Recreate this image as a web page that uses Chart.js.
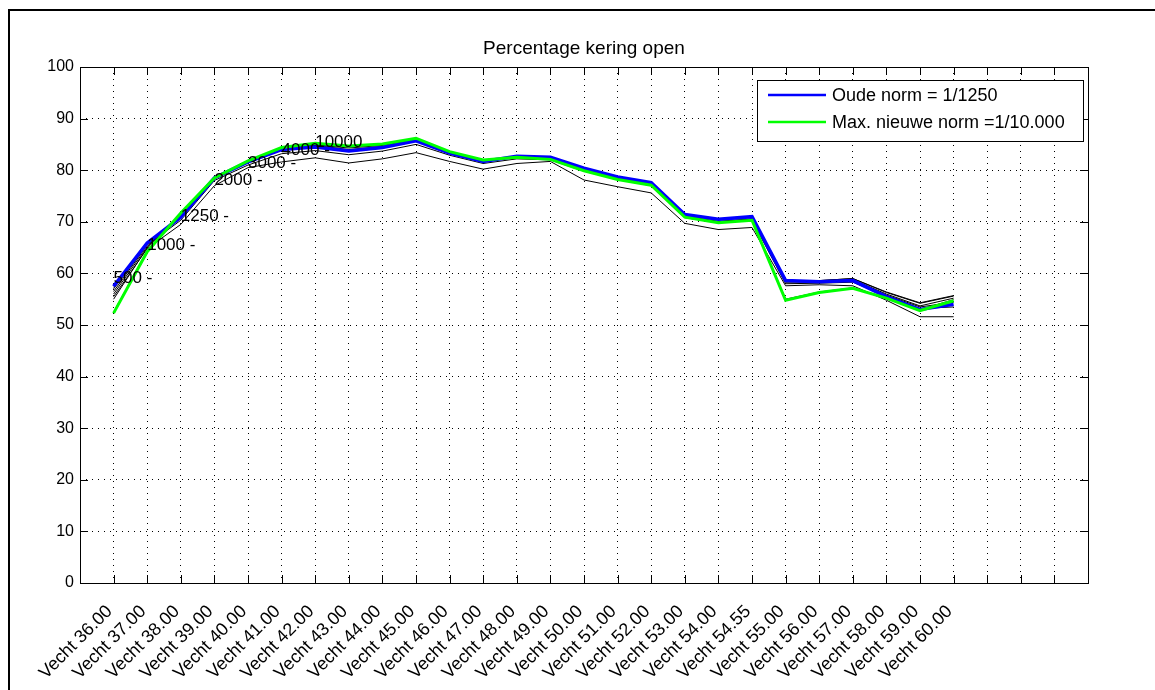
<!DOCTYPE html>
<html>
<head>
<meta charset="utf-8">
<script src="https://cdn.jsdelivr.net/npm/chart.js@4"></script>
<style>
  html, body { margin: 0; padding: 0; background: #fff; overflow: hidden; }
  #wrap { position: relative; width: 1155px; height: 690px; }
</style>
</head>
<body>
<div id="wrap"><canvas id="keringChart"></canvas></div>
<script>
// categories (x positions 1..26 on a 0..30 axis)
const categories = ['Vecht 36.00', 'Vecht 37.00', 'Vecht 38.00', 'Vecht 39.00', 'Vecht 40.00',
    'Vecht 41.00', 'Vecht 42.00', 'Vecht 43.00', 'Vecht 44.00', 'Vecht 45.00', 'Vecht 46.00',
    'Vecht 47.00', 'Vecht 48.00', 'Vecht 49.00', 'Vecht 50.00', 'Vecht 51.00', 'Vecht 52.00',
    'Vecht 53.00', 'Vecht 54.00', 'Vecht 54.55', 'Vecht 55.00', 'Vecht 56.00', 'Vecht 57.00',
    'Vecht 58.00', 'Vecht 59.00', 'Vecht 60.00'];

const oudeNorm = [57.5, 65.9, 70.9, 78.5, 81.6, 84.0, 84.5, 83.7, 84.4, 85.7, 83.3, 81.7, 82.7,
    82.5, 80.4, 78.7, 77.6, 71.4, 70.5, 71.0, 58.6, 58.4, 58.6, 55.5, 53.0, 54.0];
const nieuweNorm = [52.3, 64.2, 71.7, 78.5, 81.8, 84.4, 85.2, 84.7, 85.1, 86.2, 83.6, 82.0, 82.5,
    82.1, 79.9, 78.2, 77.1, 70.9, 69.8, 70.3, 54.8, 56.3, 57.1, 55.2, 52.8, 54.7];

// thin black lines, one per return period
const t500 = [55.5, 64.8, 69.5, 77.0, 80.5, 81.6, 82.4, 81.4, 82.2, 83.4, 81.7, 80.2, 81.3,
    81.7, 78.1, 76.8, 75.6, 69.7, 68.5, 68.9, 57.6, 57.8, 57.6, 54.8, 51.6, 51.6];
const t1000 = [56.5, 65.5, 70.3, 78.0, 81.0, 83.2, 83.8, 83.0, 83.7, 85.0, 82.9, 81.3, 82.2,
    82.0, 79.8, 78.2, 77.0, 70.8, 69.8, 70.3, 58.0, 58.1, 58.3, 55.6, 53.2, 53.5];
const t1250 = [57.3, 65.8, 70.8, 78.4, 81.5, 83.9, 84.4, 83.6, 84.3, 85.6, 83.2, 81.6, 82.6,
    82.4, 80.3, 78.6, 77.5, 71.3, 70.4, 70.9, 58.3, 58.3, 58.6, 55.8, 53.5, 54.4];
const t2000 = [57.0, 65.6, 71.2, 78.5, 81.6, 84.1, 84.8, 84.0, 84.6, 85.8, 83.4, 81.8, 82.5,
    82.2, 80.1, 78.4, 77.3, 71.1, 70.1, 70.6, 58.4, 58.5, 58.8, 56.0, 53.7, 55.2];
const t3000 = [56.0, 65.2, 71.4, 78.5, 81.7, 84.2, 84.9, 84.3, 84.8, 85.9, 83.5, 81.9, 82.5,
    82.1, 80.0, 78.3, 77.2, 71.0, 70.0, 70.5, 58.5, 58.6, 59.0, 56.3, 54.2, 55.6];
const t4000 = [55.0, 65.0, 71.5, 78.5, 81.7, 84.3, 85.0, 84.5, 85.0, 86.0, 83.5, 81.9, 82.5,
    82.1, 80.0, 78.3, 77.2, 71.0, 69.9, 70.4, 58.6, 58.6, 59.0, 56.4, 54.3, 55.7];
const t10000 = [52.5, 64.3, 71.6, 78.5, 81.8, 84.4, 85.1, 84.6, 85.1, 86.1, 83.6, 82.0, 82.5,
    82.1, 79.9, 78.2, 77.1, 70.9, 69.8, 70.3, 55.0, 56.4, 57.2, 55.3, 53.0, 54.9];

// text labels along the first categories
const contourLabels = ['500 -', '1000 -', '1250 -', '2000 -', '3000 -', '4000 -', '10000'];
const contourLabelY = [59.0, 65.5, 71.0, 78.1, 81.4, 83.9, 85.4];

const FONT = "'Liberation Sans', Arial, sans-serif";

function toPoints(arr) {
    return arr.map((v, i) => ({ x: i + 1, y: v }));
}

function thinLine(label, arr) {
    return {
        label: label,
        data: toPoints(arr),
        borderColor: '#000000',
        borderWidth: 1,
        pointRadius: 0,
        tension: 0,
        order: 5
    };
}

const decor = {
    id: 'decor',
    beforeDraw(chart) {
        const ctx = chart.ctx;
        ctx.save();
        ctx.fillStyle = '#fff';
        ctx.fillRect(0, 0, chart.width, chart.height);
        ctx.strokeStyle = '#000';
        ctx.lineWidth = 2;
        ctx.strokeRect(9, 10, chart.width + 20, chart.height + 20);
        ctx.restore();
    },
    afterDatasetsDraw(chart) {
        const ctx = chart.ctx;
        const xs = chart.scales.x, ys = chart.scales.y;
        ctx.save();
        ctx.fillStyle = '#000';
        ctx.font = '17px ' + FONT;
        ctx.textAlign = 'left';
        ctx.textBaseline = 'middle';
        contourLabels.forEach((t, i) => {
            ctx.fillText(t, xs.getPixelForValue(i + 1), ys.getPixelForValue(contourLabelY[i]));
        });
        ctx.restore();
    },
    afterDraw(chart) {
        const ctx = chart.ctx;
        const a = chart.chartArea;
        const xs = chart.scales.x, ys = chart.scales.y;
        ctx.save();
        // axes box
        ctx.strokeStyle = '#000';
        ctx.lineWidth = 1;
        ctx.strokeRect(Math.round(a.left) + 0.5, Math.round(a.top) + 0.5,
            Math.round(a.right - a.left), Math.round(a.bottom - a.top));
        // inward ticks
        const tl = 8;
        ctx.beginPath();
        xs.ticks.forEach(t => {
            const px = Math.round(xs.getPixelForValue(t.value)) + 0.5;
            ctx.moveTo(px, a.bottom); ctx.lineTo(px, a.bottom - tl);
            ctx.moveTo(px, a.top); ctx.lineTo(px, a.top + tl);
        });
        ys.ticks.forEach(t => {
            const py = Math.round(ys.getPixelForValue(t.value)) + 0.5;
            ctx.moveTo(a.left, py); ctx.lineTo(a.left + tl, py);
            ctx.moveTo(a.right, py); ctx.lineTo(a.right - tl, py);
        });
        ctx.stroke();

        // title
        ctx.fillStyle = '#000';
        ctx.font = '19px ' + FONT;
        ctx.textAlign = 'center';
        ctx.textBaseline = 'middle';
        ctx.fillText('Percentage kering open', (a.left + a.right) / 2, a.top - 18);

        // legend in the upper right corner
        const shown = chart.data.datasets.filter(d => d.legendRank)
            .sort((p, q) => p.legendRank - q.legendRank);
        const bx = a.right - 331, by = a.top + 13, bw = 326, bh = 61;
        ctx.fillStyle = '#fff';
        ctx.fillRect(bx, by, bw, bh);
        ctx.strokeStyle = '#000';
        ctx.strokeRect(bx + 0.5, by + 0.5, bw, bh);
        ctx.font = '18px ' + FONT;
        ctx.textAlign = 'left';
        shown.forEach((d, i) => {
            const ly = by + 15 + i * 27;
            ctx.strokeStyle = d.borderColor;
            ctx.lineWidth = 2.5;
            ctx.beginPath();
            ctx.moveTo(bx + 11, ly);
            ctx.lineTo(bx + 69, ly);
            ctx.stroke();
            ctx.fillStyle = '#000';
            ctx.fillText(d.label, bx + 75, ly + 1);
        });
        ctx.restore();
    }
};

new Chart(document.getElementById('keringChart'), {
    type: 'line',
    data: {
        datasets: [
            {
                label: 'Max. nieuwe norm =1/10.000',
                data: toPoints(nieuweNorm),
                borderColor: '#00ff00',
                borderWidth: 3,
                pointRadius: 0,
                tension: 0,
                legendRank: 2,
                order: 1
            },
            {
                label: 'Oude norm = 1/1250',
                data: toPoints(oudeNorm),
                borderColor: '#0000ff',
                borderWidth: 3.5,
                pointRadius: 0,
                tension: 0,
                legendRank: 1,
                order: 2
            },
            thinLine('500', t500),
            thinLine('1000', t1000),
            thinLine('1250', t1250),
            thinLine('2000', t2000),
            thinLine('3000', t3000),
            thinLine('4000', t4000),
            thinLine('10000', t10000)
        ]
    },
    options: {
        responsive: true,
        maintainAspectRatio: false,
        animation: false,
        layout: { padding: { left: 0, top: 67, right: 67, bottom: 0 } },
        plugins: {
            legend: { display: false },
            tooltip: { enabled: false }
        },
        scales: {
            x: {
                type: 'linear',
                min: 0,
                max: 30,
                afterFit: s => { s.height = 107; },
                ticks: {
                    stepSize: 1,
                    autoSkip: false,
                    minRotation: 45,
                    maxRotation: 45,
                    padding: 18,
                    labelOffset: -4,
                    color: '#000',
                    font: { family: FONT, size: 18 },
                    callback: v => (v >= 1 && v <= categories.length) ? categories[v - 1] : ''
                },
                grid: { color: '#000', lineWidth: 1, drawTicks: false },
                border: { display: false, dash: [1, 5] }
            },
            y: {
                min: 0,
                max: 100,
                afterFit: s => { s.width = 80; },
                ticks: {
                    stepSize: 10,
                    padding: 6,
                    color: '#000',
                    font: { family: FONT, size: 16 }
                },
                grid: { color: '#000', lineWidth: 1, drawTicks: false },
                border: { display: false, dash: [1, 5] }
            }
        }
    },
    plugins: [decor]
});
</script>
</body>
</html>
